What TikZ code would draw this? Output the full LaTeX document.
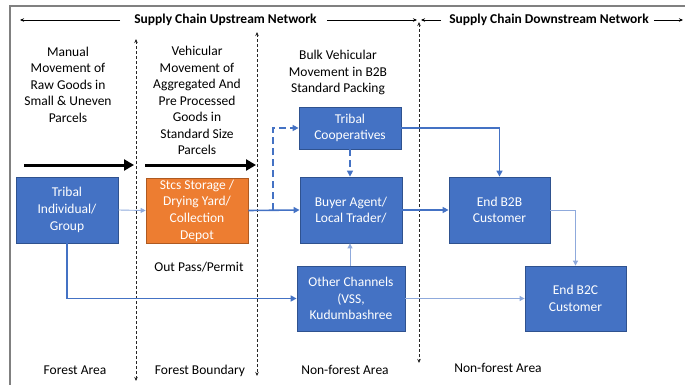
\documentclass[tikz,border=0pt]{standalone}
\usepackage{fontspec}
\setmainfont{Carlito}
\usetikzlibrary{arrows.meta}
\definecolor{boxblue}{HTML}{4472C4}
\definecolor{boxedge}{HTML}{2F528F}
\definecolor{boxorange}{HTML}{ED7D31}
\definecolor{orangeedge}{HTML}{AE5A21}
\definecolor{lightlink}{HTML}{8FAADC}
\definecolor{framegray}{HTML}{808080}
\tikzset{
  txt/.style={font=\fontsize{13.5}{16.5}\selectfont, align=center, inner sep=0pt},
  hdr/.style={font=\bfseries\fontsize{13.5}{16.5}\selectfont, inner sep=0pt},
  bluebox/.style={draw=boxedge, line width=0.8pt, fill=boxblue, text=white,
    font=\fontsize{13.5}{16.7}\selectfont, align=center, inner sep=0pt},
  orangebox/.style={bluebox, draw=orangeedge, fill=boxorange},
  mainlink/.style={draw=boxblue, line width=1.6pt, -{Triangle[length=6pt,width=6pt]}},
  thinlink/.style={draw=lightlink, line width=0.9pt, -{Triangle[length=5pt,width=5pt]}},
  dashlink/.style={mainlink, dash pattern=on 7pt off 4pt},
  boundary/.style={draw=black!85, line width=0.8pt, dash pattern=on 3pt off 2pt,
    {Stealth[length=4pt,width=3.5pt]}-{Stealth[length=4pt,width=3.5pt]}},
  hdrline/.style={draw=black, line width=0.7pt},
  bigarrow/.style={draw=black, line width=3pt, -{Triangle[length=10pt,width=11pt]}},
}
\begin{document}
\begin{tikzpicture}[x=1pt,y=-1pt]
\useasboundingbox (0,0) rectangle (685,385);

% frame edges
\draw[framegray, line width=1.5pt] (10,385) -- (10,6) -- (685,6);

% network headers
\node[hdr] (up) at (225.5,20) {Supply Chain Upstream Network};
\node[hdr] (down) at (549,20) {Supply Chain Downstream Network};
\coordinate (upL) at (20,20);
\coordinate (upR) at (417,20);
\coordinate (dnL) at (421,20);
\coordinate (dnR) at (683,20);
\draw[hdrline, -{Stealth[length=4pt,width=3.5pt]}] ([xshift=-14pt]up.west) -- (upL);
\draw[hdrline, -{Stealth[length=4pt,width=3.5pt]}] ([xshift=10pt]up.east) -- (upR);
\draw[hdrline, -{Stealth[length=4pt,width=3.5pt]}] ([xshift=-8pt]down.west) -- (dnL);
\draw[hdrline, -{Stealth[length=4pt,width=3.5pt]}] ([xshift=5pt]down.east) -- (dnR);

% zone boundaries
\coordinate (b1t) at (136,39);  \coordinate (b1b) at (136,381);
\coordinate (b2t) at (257,32);  \coordinate (b2b) at (257,376);
\coordinate (b3t) at (419,22);  \coordinate (b3b) at (419,363);
\draw[boundary] (b1t) -- (b1b);
\draw[boundary] (b2t) -- (b2b);
\draw[boundary] (b3t) -- (b3b);

% movement descriptions
\node[txt] (mov1) at (68,84.5) {Manual\\Movement of\\Raw Goods in\\Small \& Uneven\\Parcels};
\node[txt] (mov2) at (197,100.5) {Vehicular\\Movement of\\Aggregated And\\Pre Processed\\Goods in\\Standard Size\\Parcels};
\node[txt] (mov3) at (338,72.5) {Bulk Vehicular\\Movement in B2B\\Standard Packing};

% movement arrows
\coordinate (a1s) at (24,165);  \coordinate (a1e) at (134,165);
\coordinate (a2s) at (145,165); \coordinate (a2e) at (256,165);
\draw[bigarrow] (a1s) -- (a1e);
\draw[bigarrow] (a2s) -- (a2e);

% actors
\node[bluebox, minimum width=102pt, minimum height=66pt] (indiv) at (67,210) {Tribal\\Individual/\\Group};
\node[orangebox, minimum width=102pt, minimum height=65pt] (stcs) at (197,210.5) {Stcs Storage /\\Drying Yard/\\Collection\\Depot};
\node[bluebox, minimum width=102pt, minimum height=42pt] (coop) at (350,128) {Tribal\\Cooperatives};
\node[bluebox, minimum width=102pt, minimum height=66pt] (buyer) at (351,210) {Buyer Agent/\\Local Trader/};
\node[bluebox, minimum width=101pt, minimum height=66pt] (b2b) at (499.5,210) {End B2B\\Customer};
\node[bluebox, minimum width=101pt, minimum height=65pt] (b2c) at (575.5,298.5) {End B2C\\Customer};
\node[bluebox, minimum width=108pt, minimum height=65pt] (other) at (351,298.5) {Other Channels\\(VSS,\\Kudumbashree};

% flows
\draw[thinlink] (indiv.east) -- (stcs.west);
\draw[mainlink] (stcs.east) -- (buyer.west);
\coordinate (split) at (273,210);
\draw[dashlink] (split) |- (coop.west);
\draw[dashlink] (coop.south) -- (coop.south |- buyer.north);
\draw[mainlink] (coop.east) -| (b2b.north);
\draw[mainlink] (buyer.east) -- (b2b.west);
\draw[thinlink] (other.north -| coop.south) -- (buyer.south -| coop.south);
\draw[mainlink] (indiv.south) |- (other.west);
\draw[thinlink] (other.east) -- (b2c.west);
\draw[thinlink] (b2b.east) -| (b2c.north);

% zone labels
\node[txt] (permit) at (199,267) {Out Pass/Permit};
\node[txt] (zone1) at (75,370) {Forest Area};
\node[txt] (zone2) at (200,371) {Forest Boundary};
\node[txt] (zone3) at (345,370) {Non-forest Area};
\node[txt] (zone4) at (498,368) {Non-forest Area};
\end{tikzpicture}
\end{document}
